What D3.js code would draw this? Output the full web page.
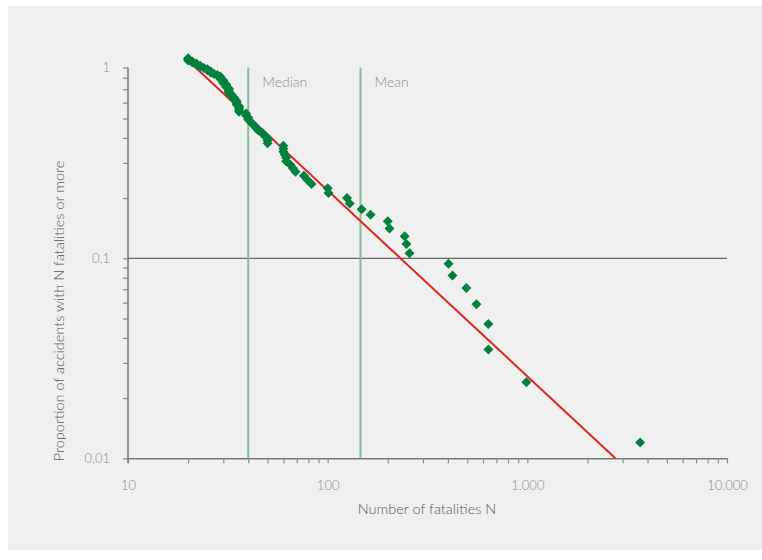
<!DOCTYPE html>
<meta charset="utf-8">
<script src="https://d3js.org/d3.v7.min.js"></script>
<style>
  body { margin: 0; background: #fff; }
  text { font-family: Lato, "Open Sans", sans-serif; font-weight: 300; }
</style>
<div id="my_dataviz"></div>
<script>

// fatalities per accident (N) and share of accidents with N or more
var fatalities = [20, 20, 20, 21, 21, 22, 22, 23, 23, 24, 25, 25, 26, 26, 27, 28,
  29, 29, 29, 30, 30, 30, 31, 31, 31, 32, 32, 32, 32, 33, 33, 34, 34, 35, 35, 35,
  36, 36, 36, 36, 39, 39, 40, 40, 41, 42, 43, 44, 45, 47, 48, 50, 50, 50, 60, 60,
  60, 61, 62, 62, 65, 67, 69, 76, 79, 83, 100, 101, 125, 129, 148, 164, 200, 204,
  243, 248, 257, 403, 422, 495, 556, 638, 638, 989, 3673];
var proportion = [1.000, 0.988, 0.976, 0.965, 0.953, 0.941, 0.929, 0.918, 0.906,
  0.894, 0.882, 0.871, 0.859, 0.847, 0.835, 0.824, 0.812, 0.800, 0.788, 0.776,
  0.765, 0.753, 0.741, 0.729, 0.718, 0.706, 0.694, 0.682, 0.671, 0.659, 0.647,
  0.635, 0.624, 0.612, 0.600, 0.588, 0.576, 0.565, 0.553, 0.541, 0.529, 0.518,
  0.506, 0.494, 0.482, 0.471, 0.459, 0.447, 0.435, 0.424, 0.412, 0.400, 0.388,
  0.376, 0.365, 0.353, 0.341, 0.329, 0.318, 0.306, 0.294, 0.282, 0.271, 0.259,
  0.247, 0.235, 0.224, 0.212, 0.200, 0.188, 0.176, 0.165, 0.153, 0.141, 0.129,
  0.118, 0.106, 0.094, 0.082, 0.071, 0.059, 0.047, 0.035, 0.024, 0.012];

// fitted power law, two end points
var fitN = [21, 2760];
var fitP = [0.93, 0.01];

// reference lines
var refNames = ["Median", "Mean"];
var refValues = [40, 146];

// axis ticks
var xMajor = [10, 100, 1000, 10000];
var xMajorLabels = ["10", "100", "1.000", "10.000"];
var yMajor = [0.01, 0.1, 0.9];
var yMajorLabels = ["0,01", "0,1", "1"];

var W = 762, H = 560;

var svg = d3.select("#my_dataviz")
  .append("svg")
    .attr("width", W)
    .attr("height", H);

// grey panel
svg.append("rect")
  .attr("x", 8).attr("y", 6)
  .attr("width", W - 8).attr("height", 544)
  .attr("fill", "#f0f0f0");

var x = d3.scaleLog().domain([10, 10000]).range([128, 727]);
var y = d3.scaleLog().domain([0.01, 1]).range([458.3, 58.3]);

// minor + major tick values
var xTicks = [];
[10, 100, 1000].forEach(function(d) {
  for (var i = 1; i < 10; i++) xTicks.push(d * i);
});
xTicks.push(10000);
var yTicks = [];
[0.01, 0.1].forEach(function(d) {
  for (var i = 1; i < 10; i++) yTicks.push(+(d * i).toFixed(3));
});

function xLabel(d) {
  var i = xMajor.indexOf(d);
  return i < 0 ? "" : xMajorLabels[i];
}
function yLabel(d) {
  var i = yMajor.indexOf(d);
  return i < 0 ? "" : yMajorLabels[i];
}

// X axis
var gx = svg.append("g")
  .attr("transform", "translate(0," + y(0.01) + ")")
  .call(d3.axisBottom(x).tickValues(xTicks).tickFormat(xLabel)
    .tickSize(5).tickSizeOuter(0).tickPadding(17));
gx.select(".domain").attr("stroke", "#777").attr("stroke-width", 1.5);
gx.selectAll(".tick line").attr("stroke", "#888").attr("stroke-width", 1.2);
gx.selectAll(".tick text").attr("fill", "#8c8c8c").style("font-size", "13px");

// Y axis
var gy = svg.append("g")
  .attr("transform", "translate(" + x(10) + ",0)")
  .call(d3.axisLeft(y).tickValues(yTicks).tickFormat(yLabel)
    .tickSize(5).tickSizeOuter(0).tickPadding(13));
gy.select(".domain").remove();
gy.selectAll(".tick line").attr("stroke", "#888").attr("stroke-width", 1.2);
gy.selectAll(".tick text").attr("fill", "#8c8c8c").style("font-size", "13px");
gy.append("line")
  .attr("x1", 0).attr("x2", 0)
  .attr("y1", y(0.9)).attr("y2", y(0.01) + 5)
  .attr("stroke", "#777").attr("stroke-width", 1.5);

// 0,1 line
svg.append("line")
  .attr("x1", x(10)).attr("x2", x(10000))
  .attr("y1", y(0.1)).attr("y2", y(0.1))
  .attr("stroke", "#666").attr("stroke-width", 1.2);

// median / mean
svg.selectAll(".ref")
  .data(refValues)
  .enter().append("line")
    .attr("class", "ref")
    .attr("x1", function(d) { return x(d); })
    .attr("x2", function(d) { return x(d); })
    .attr("y1", y(0.9))
    .attr("y2", y(0.01))
    .attr("stroke", "#80bf9b")
    .attr("stroke-width", 2);
svg.selectAll(".refLabel")
  .data(refValues)
  .enter().append("text")
    .attr("class", "refLabel")
    .attr("x", function(d) { return x(d) + 14; })
    .attr("y", 87)
    .attr("fill", "#8c8c8c")
    .style("font-size", "14px")
    .text(function(d, i) { return refNames[i]; });

// fitted line
svg.append("path")
  .datum(d3.zip(fitN, fitP))
  .attr("fill", "none")
  .attr("stroke", "#e3261b")
  .attr("stroke-width", 2)
  .attr("d", d3.line()
    .x(function(d) { return x(d[0]); })
    .y(function(d) { return y(d[1]); }));

// diamonds
var diamond = d3.symbol().type(d3.symbolSquare).size(50);
svg.selectAll(".pt")
  .data(d3.zip(fatalities, proportion))
  .enter().append("path")
    .attr("class", "pt")
    .attr("d", diamond)
    .attr("transform", function(d) {
      return "translate(" + x(d[0]) + "," + y(d[1]) + ") rotate(45)";
    })
    .attr("fill", "#00803e");

// axis titles
svg.append("text")
  .attr("x", 427).attr("y", 514)
  .attr("text-anchor", "middle")
  .attr("fill", "#555")
  .style("font-size", "14.5px")
  .text("Number of fatalities N");

svg.append("text")
  .attr("transform", "translate(64,311) rotate(-90)")
  .attr("text-anchor", "middle")
  .attr("fill", "#555")
  .style("font-size", "14.5px")
  .text("Proportion of accidents with N fatalities or more");

</script>
